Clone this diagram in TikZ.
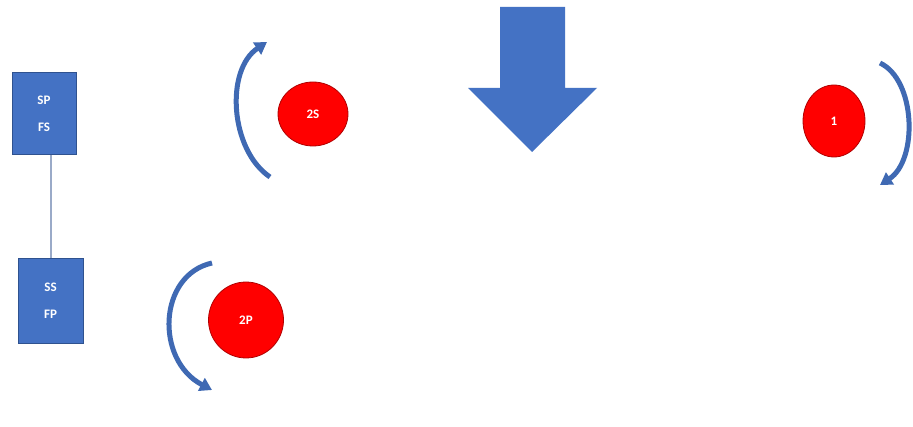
\documentclass[tikz,border=0pt]{standalone}
\usepackage{fontspec}
\setmainfont{Carlito}
\usetikzlibrary{arrows.meta,shapes.geometric}
\definecolor{obl}{HTML}{4472C4}
\definecolor{obd}{HTML}{2F528F}
\definecolor{rd}{HTML}{FF0000}
\definecolor{rdd}{HTML}{B00000}
\definecolor{arcc}{HTML}{3F69B3}
\definecolor{lnk}{HTML}{9AAAC8}
\tikzset{
  bluebox/.style={draw=obd, line width=0.8pt, fill=obl, text=white, inner sep=0pt,
    minimum width=64pt, minimum height=82pt, align=center, font=\fontsize{13}{27}\selectfont\bfseries},
  redball/.style={ellipse, draw=rdd, line width=0.8pt, fill=rd, text=white, inner sep=0pt,
    font=\fontsize{13}{15}\selectfont\bfseries},
  turn/.style={draw=arcc, line width=5pt, -{Triangle[width=14pt,length=12pt]}},
}
\begin{document}
\begin{tikzpicture}[x=1pt,y=-1pt]
\useasboundingbox (0,0) rectangle (913,427);
\fill[white] (0,0) rectangle (913,427);
% boxes
\node[bluebox] (b1) at (44,113.5) {SP\\FS};
\node[bluebox, minimum width=65pt, minimum height=85pt] (b2) at (50.5,300.5) {SS\\FP};
\draw[lnk, line width=2pt] (b2.north) -- (b2.north |- b1.south);
% circles
\node[redball, minimum width=70pt, minimum height=64pt] (c2s) at (313,114) {2S};
\node[redball, minimum width=75pt, minimum height=76pt] (c2p) at (246,320) {2P};
\node[redball, minimum width=62pt, minimum height=72pt] (c1) at (834,121) {1};
% curved arrows
\coordinate (a2s0) at (270,177);
\coordinate (a2s1) at (267,42);
\draw[turn] (a2s0) .. controls (230,150) and (225,70) .. (a2s1);
\coordinate (a2p0) at (212,263);
\coordinate (a2p1) at (212,390);
\draw[turn] (a2p0) .. controls (158,275) and (155,360) .. (a2p1);
\coordinate (a10) at (880,63);
\coordinate (a11) at (880,185);
\draw[turn] (a10) .. controls (916,80) and (918,160) .. (a11);
% big down arrow
\fill[obl] (500,7) -- (565,7) -- (565,88) -- (597,88) -- (532,152) -- (468,88) -- (500,88) -- cycle;
\end{tikzpicture}
\end{document}
